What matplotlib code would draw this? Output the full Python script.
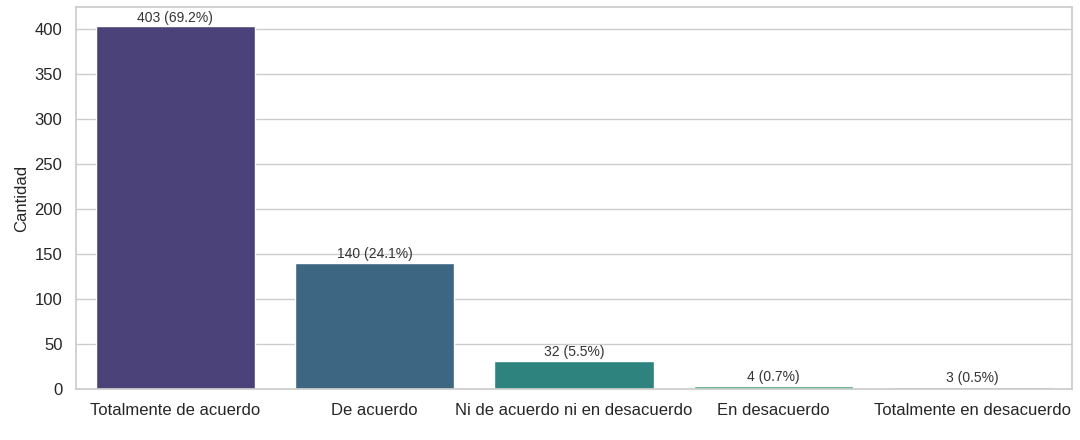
import matplotlib
matplotlib.use('Agg')
import matplotlib.pyplot as plt
import seaborn as sns
import pandas as pd

categorias = ["Totalmente de acuerdo", "De acuerdo", "Ni de acuerdo ni en desacuerdo",
              "En desacuerdo", "Totalmente en desacuerdo"]
cantidades = [403, 140, 32, 4, 3]
porcentajes = [69.2, 24.1, 5.5, 0.7, 0.5]

sns.set_theme(style="whitegrid")
plt.rcParams['font.family'] = ['Arial', 'Liberation Sans', 'DejaVu Sans']

df = pd.DataFrame({"Respuesta": categorias, "Cantidad": cantidades})

fig, ax = plt.subplots(figsize=(10.8, 4.4), dpi=100)
sns.barplot(data=df, x="Respuesta", y="Cantidad", hue="Respuesta",
            palette="viridis", legend=False, ax=ax)

for i, (c, p) in enumerate(zip(cantidades, porcentajes)):
    ax.text(i, c + 2, f"{c} ({p}%)", ha='center', va='bottom', fontsize=10, color='#333333')

ax.set_xlabel("")
ax.set_ylabel("Cantidad", fontsize=12)
ax.set_ylim(0, 425)
ax.tick_params(axis='both', labelsize=12)
for s in ax.spines.values():
    s.set_color('#cccccc')

fig.subplots_adjust(left=0.07, right=0.993, top=0.985, bottom=0.115)
fig.savefig("out.png")
